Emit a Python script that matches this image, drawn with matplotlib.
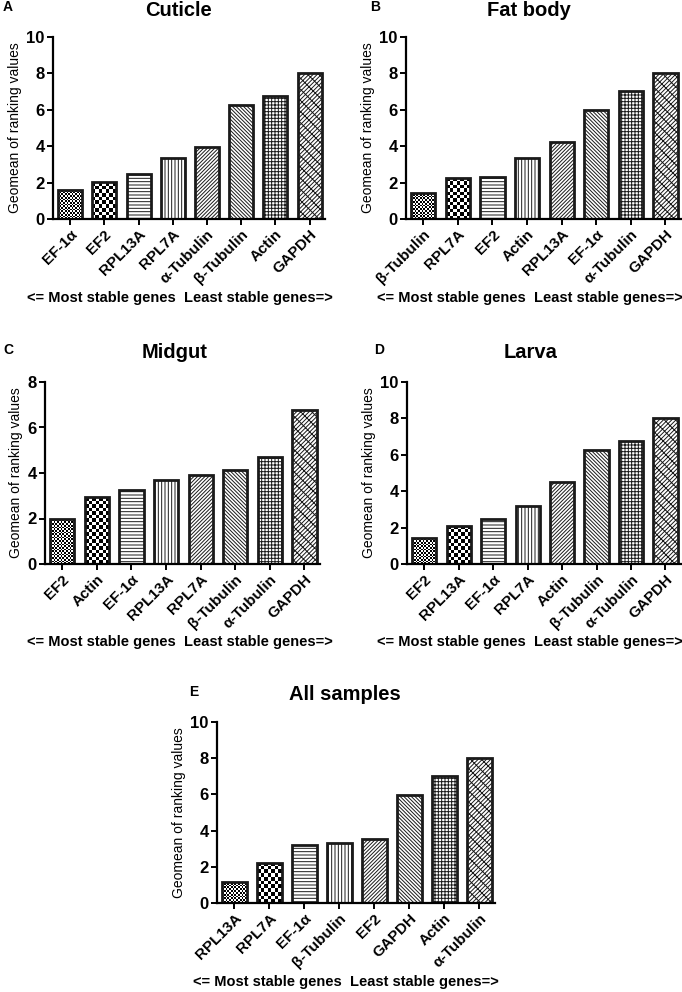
import matplotlib
matplotlib.use("Agg")
import matplotlib.pyplot as plt
import numpy as np

plt.rcParams['font.family'] = ['Liberation Sans', 'DejaVu Sans']
plt.rcParams['hatch.linewidth'] = 0.7

# panel A - Cuticle
genes_a = ['EF-1α', 'EF2', 'RPL13A', 'RPL7A', 'α-Tubulin', 'β-Tubulin', 'Actin', 'GAPDH']
vals_a = [1.59, 2.01, 2.47, 3.36, 3.97, 6.25, 6.75, 8.0]
# panel B - Fat body
genes_b = ['β-Tubulin', 'RPL7A', 'EF2', 'Actin', 'RPL13A', 'EF-1α', 'α-Tubulin', 'GAPDH']
vals_b = [1.44, 2.23, 2.30, 3.35, 4.22, 6.01, 7.02, 8.0]
# panel C - Midgut
genes_c = ['EF2', 'Actin', 'EF-1α', 'RPL13A', 'RPL7A', 'β-Tubulin', 'α-Tubulin', 'GAPDH']
vals_c = [1.99, 2.94, 3.25, 3.68, 3.90, 4.15, 4.70, 6.75]
# panel D - Larva
genes_d = ['EF2', 'RPL13A', 'EF-1α', 'RPL7A', 'Actin', 'β-Tubulin', 'α-Tubulin', 'GAPDH']
vals_d = [1.45, 2.11, 2.49, 3.19, 4.50, 6.26, 6.76, 8.0]
# panel E - All samples
genes_e = ['RPL13A', 'RPL7A', 'EF-1α', 'β-Tubulin', 'EF2', 'GAPDH', 'Actin', 'α-Tubulin']
vals_e = [1.17, 2.22, 3.21, 3.34, 3.56, 5.98, 6.99, 8.0]

W, H = 682, 992
fig = plt.figure(figsize=(W / 100, H / 100), dpi=100)

# hatch for each bar position (None = checker drawn with an image)
hatches = [None, None, '-----', '|||||', '/' * 9, '\\' * 9, '+++++', '/' * 8 + '\\\\\\']
checker_px = [1.7, 3.5]


def px_axes(x0, y0, x1, y1):
    # pixel box (left, top, right, bottom) -> figure fraction
    return fig.add_axes([x0 / W, 1 - y1 / H, (x1 - x0) / W, (y1 - y0) / H])


def checker(ax, bar, sq):
    x, y = bar.get_x(), bar.get_y()
    w, h = bar.get_width(), bar.get_height()
    p0 = ax.transData.transform((x, y))
    p1 = ax.transData.transform((x + w, y + h))
    nx = max(int(round(abs(p1[0] - p0[0]) / sq)), 1)
    ny = max(int(round(abs(p1[1] - p0[1]) / sq)), 1)
    img = (np.add.outer(np.arange(ny), np.arange(nx)) % 2).astype(float)
    im = ax.imshow(img, cmap='gray', vmin=0, vmax=1, extent=(x, x + w, y, y + h),
                   aspect='auto', interpolation='nearest', zorder=1.5)
    im.set_clip_path(bar)


def panel(box, genes, vals, ymax, title, letter, title_xy, letter_xy, note_xy):
    ax = px_axes(*box)
    xs = np.arange(len(genes))
    ax.set_xlim(-0.5, len(genes) - 0.55)
    ax.set_ylim(0, ymax)
    bars = ax.bar(xs, vals, width=0.7, color='white', edgecolor='#1a1a1a',
                  linewidth=2.0, zorder=2)
    for i, b in enumerate(bars):
        if hatches[i] is None:
            b.set_facecolor('none')
            checker(ax, b, checker_px[i])
        else:
            b.set_hatch(hatches[i])
    ax.set_yticks(np.arange(0, ymax + 1, 2))
    ax.set_xticks(xs)
    ax.set_xticklabels(genes, rotation=45, ha='right', rotation_mode='anchor',
                       fontsize=11, fontweight='bold')
    for t in ax.get_yticklabels():
        t.set_fontsize(12)
        t.set_fontweight('bold')
    ax.spines['top'].set_visible(False)
    ax.spines['right'].set_visible(False)
    ax.spines['left'].set_linewidth(1.6)
    ax.spines['bottom'].set_linewidth(1.6)
    ax.tick_params(width=1.4, length=4, pad=2)
    ax.set_ylabel('Geomean of ranking values', fontsize=10, labelpad=3)
    fig.text(title_xy[0] / W, 1 - title_xy[1] / H, title, fontsize=14.5,
             fontweight='bold', ha='center', va='center')
    fig.text(letter_xy[0] / W, 1 - letter_xy[1] / H, letter, fontsize=10,
             fontweight='bold', ha='left', va='center')
    fig.text(note_xy[0] / W, 1 - note_xy[1] / H,
             '<= Most stable genes  Least stable genes=>', fontsize=10.5,
             fontweight='bold', ha='center', va='center')
    return ax


panel((53, 37, 325, 219), genes_a, vals_a, 10, 'Cuticle', 'A', (178, 10), (3, 7), (180, 298))
panel((406, 37, 681, 219), genes_b, vals_b, 10, 'Fat body', 'B', (529, 10), (370, 7), (530, 298))
panel((45, 382, 320, 564), genes_c, vals_c, 8, 'Midgut', 'C', (175, 353), (3, 350), (180, 642))
panel((407, 382, 681, 564), genes_d, vals_d, 10, 'Larva', 'D', (531, 353), (374, 350), (530, 642))
panel((217, 722, 495, 903), genes_e, vals_e, 10, 'All samples', 'E', (345, 695), (189, 692), (346, 982))

fig.savefig('out.png', dpi=100)
